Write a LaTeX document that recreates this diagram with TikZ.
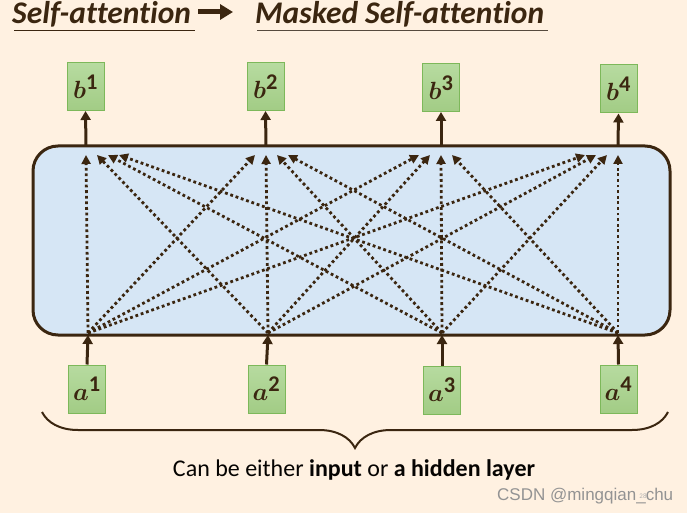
\documentclass[tikz,border=0pt]{standalone}
\usepackage{fontspec}
\setmainfont[Ligatures=NoCommon]{Carlito}
\newfontfamily\wmfont{Liberation Sans}
\usepackage{amsmath,bm}
\usetikzlibrary{arrows.meta,decorations.pathreplacing}
\definecolor{bgc}{HTML}{FFF1E1}
\definecolor{brn}{HTML}{3B2610}
\definecolor{blu}{HTML}{D6E6F5}
\definecolor{grnA}{HTML}{B7DBA0}
\definecolor{grnB}{HTML}{A2CC85}
\definecolor{grnE}{HTML}{7DB85A}
\tikzset{
  vecbox/.style={draw=grnE, line width=1pt, top color=grnA, bottom color=grnB,
    minimum width=37pt, minimum height=48pt, inner sep=0pt, text=brn,
    font=\fontsize{32}{34}\selectfont},
  uparr/.style={draw=brn, line width=3pt, -{Triangle[length=9pt,width=10pt]}},
  dotarr/.style={draw=brn, line width=2.8pt, dash pattern=on 2.8pt off 2.8pt,
    -{Triangle[length=9pt,width=9pt]}},
}
\newcommand{\vv}[2]{$\bm{#1}^{\mathbf{#2}}$}
\begin{document}
\begin{tikzpicture}[x=1pt,y=-1pt]
\useasboundingbox[fill=bgc] (0,0) rectangle (687,513);
% title
\node[anchor=base west, inner sep=0pt, text=brn, font=\fontsize{31.5}{34}\selectfont\bfseries\itshape] (t1) at (12,23.5) {Self-attention};
\draw[brn, line width=1.3pt] (14,30.5) -- (195,30.5);
\node[anchor=base west, inner sep=0pt, text=brn, font=\fontsize{31.5}{34}\selectfont\bfseries\itshape] (t2) at (255,23.5) {Masked Self-attention};
\draw[brn!60!gray, line width=1.3pt] (257,30.5) -- (548,30.5);
\coordinate (ha) at (198,12);
\coordinate (hb) at (233,12);
\draw[brn, line width=5pt, -{Triangle[length=13pt,width=15pt]}] (ha) -- (hb);
% main block
\node[draw=brn, line width=3pt, fill=blu, rounded corners=25pt, minimum width=637pt, minimum height=189pt, inner sep=0pt] (blk) at (351.5,240.5) {};
% boxes
\node[vecbox] (b1) at (85.5,86.5) {\vv{b}{1}};
\node[vecbox] (b2) at (265.5,86.5) {\vv{b}{2}};
\node[vecbox] (b3) at (441,87.5) {\vv{b}{3}};
\node[vecbox] (b4) at (618.5,89) {\vv{b}{4}};
\node[vecbox] (a1) at (87,389) {\vv{a}{1}};
\node[vecbox] (a2) at (266.5,389) {\vv{a}{2}};
\node[vecbox] (a3) at (442,390) {\vv{a}{3}};
\node[vecbox] (a4) at (618.5,389) {\vv{a}{4}};
% top and bottom points on block
\foreach \i/\x in {1/86,2/266,3/441,4/618}{
  \coordinate (t\i) at (\x,146);
  \coordinate (u\i) at (\x,155);
}
\foreach \i/\x in {1/88,2/268,3/442,4/618}{
  \coordinate (s\i) at (\x,333);
  \coordinate (r\i) at (\x,335);
}
\foreach \i in {1,2,3,4}{
  \draw[uparr] (t\i) -- (b\i.south);
  \draw[uparr] (a\i.north) -- (r\i);
}
% dotted attention arrows
\foreach \i in {1,2,3,4}{
  \foreach \j in {1,2,3,4}{
    \pgfmathsetmacro{\off}{(\i-\j)*11}
    \draw[dotarr] (s\i) -- ([xshift=\off pt]u\j);
  }
}
% brace
\coordinate (bl) at (42,412);
\coordinate (br) at (668,412);
\draw[brn, line width=2pt, decorate, decoration={brace, mirror, amplitude=36pt}] (bl) -- (br);
\node[anchor=base, inner sep=0pt, text=black!90!brn, font=\fontsize{24}{28}\selectfont] (cap) at (354,476) {Can be either \textbf{input} or \textbf{a hidden layer}};
% watermark
\node[anchor=base west, inner sep=0pt, text=gray!85, font=\fontsize{17}{20}\wmfont\selectfont] (wm) at (497,500) {CSDN @mingqian\_chu};
\node[anchor=base, inner sep=0pt, text=gray!60, font=\fontsize{7}{8}\selectfont] (pg) at (643,498) {28};
\end{tikzpicture}
\end{document}
